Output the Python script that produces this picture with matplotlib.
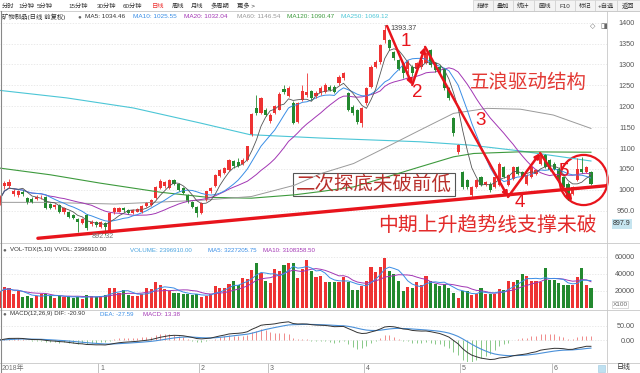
import numpy as np
import pandas as pd
import matplotlib
matplotlib.use("Agg")
import matplotlib.pyplot as plt
from matplotlib.lines import Line2D
from matplotlib.patches import Ellipse, Rectangle

plt.rcParams['font.family'] = ['Liberation Sans', 'Noto Sans CJK SC', 'DejaVu Sans']

# daily candles (Dec 2017 .. Jun 2018)
opens = [970, 1008, 1008, 990, 988, 995, 980, 979, 978, 982,
         983, 965, 958, 964, 946, 948, 940, 930, 920, 940,
         918, 922, 912, 920, 900, 946, 948, 956, 952, 945,
         948, 946, 962, 964, 980, 1004, 1008, 1004, 1024, 1014,
         1004, 988, 972, 960, 944, 976, 996, 1008, 1032, 1040,
         1048, 1068, 1066, 1062, 1072, 1132, 1196, 1185, 1192, 1164,
         1184, 1192, 1242, 1224, 1208, 1163, 1216, 1226, 1236, 1224,
         1232, 1235, 1247, 1247, 1255, 1267, 1231, 1199, 1191, 1159,
         1207, 1247, 1295, 1306, 1358, 1358, 1330, 1310, 1303, 1290,
         1295, 1290, 1295, 1303, 1335, 1303, 1295, 1290, 1243, 1171,
         1091, 1043, 1023, 987, 1007, 1031, 1011, 1015, 1007, 1011,
         1055, 1011, 1027, 1055, 1043, 1015, 1031, 1039, 1063, 1083,
         1071, 1063, 1051, 1031, 1015, 991, 1023, 1051, 1043, 1043]
closes = [978, 1016, 1018, 998, 996, 990, 970, 972, 984, 983,
          956, 957, 964, 948, 956, 936, 932, 922, 930, 908,
          924, 915, 922, 912, 944, 956, 956, 951, 945, 951,
          954, 962, 968, 976, 1006, 1022, 1018, 1024, 1014, 1000,
          992, 972, 960, 944, 968, 996, 1004, 1036, 1048, 1052,
          1072, 1056, 1056, 1072, 1104, 1181, 1185, 1220, 1180, 1180,
          1200, 1230, 1235, 1244, 1161, 1208, 1236, 1234, 1220, 1232,
          1244, 1251, 1239, 1235, 1271, 1279, 1191, 1183, 1163, 1195,
          1243, 1295, 1306, 1346, 1382, 1339, 1315, 1290, 1279, 1306,
          1279, 1303, 1310, 1327, 1298, 1287, 1279, 1243, 1219, 1135,
          1107, 1007, 1007, 1007, 1023, 1011, 1019, 999, 1031, 1063,
          1031, 1035, 1055, 1039, 1031, 1035, 1055, 1047, 1083, 1055,
          1047, 1051, 1023, 1007, 983, 1007, 1051, 1043, 1055, 1015]
highs = [988, 1022, 1025, 1003, 1000, 999, 983, 982, 987, 987,
         986, 968, 967, 966, 959, 950, 942, 933, 933, 942,
         927, 925, 925, 923, 946, 959, 959, 958, 954, 953,
         956, 964, 970, 978, 1008, 1026, 1021, 1027, 1027, 1016,
         1006, 990, 974, 962, 970, 998, 1007, 1038, 1050, 1055,
         1074, 1071, 1076, 1075, 1106, 1183, 1227, 1223, 1196, 1184,
         1204, 1233, 1251, 1248, 1212, 1211, 1252, 1280, 1240, 1236,
         1248, 1256, 1250, 1252, 1275, 1283, 1235, 1203, 1194, 1198,
         1246, 1298, 1310, 1349, 1393.37, 1362, 1333, 1313, 1306, 1310,
         1299, 1307, 1314, 1331, 1338, 1306, 1298, 1292, 1246, 1174,
         1110, 1046, 1026, 1010, 1026, 1034, 1022, 1018, 1034, 1066,
         1058, 1038, 1058, 1058, 1046, 1038, 1058, 1050, 1086, 1086,
         1074, 1066, 1054, 1034, 1018, 1010, 1075, 1079, 1058, 1046]
lows = [964, 1003, 1004, 985, 984, 986, 967, 969, 975, 978,
        953, 954, 955, 945, 943, 933, 929, 900, 917, 905,
        914, 911, 908, 892.32, 898, 943, 946, 948, 942, 943,
        946, 944, 959, 962, 978, 1002, 1005, 1002, 1011, 997,
        989, 969, 957, 936, 942, 974, 993, 1006, 1030, 1038,
        1046, 1053, 1054, 1060, 1070, 1130, 1180, 1182, 1176, 1160,
        1181, 1190, 1230, 1221, 1158, 1160, 1213, 1222, 1215, 1220,
        1228, 1232, 1236, 1232, 1252, 1263, 1188, 1178, 1158, 1151,
        1204, 1244, 1291, 1302, 1352, 1335, 1311, 1286, 1268, 1280,
        1272, 1284, 1290, 1300, 1294, 1283, 1275, 1240, 1215, 1130,
        1085, 1003, 1002, 982, 1004, 1008, 1008, 995, 1004, 1008,
        1028, 1008, 1024, 1036, 1028, 1012, 1028, 1036, 1060, 1052,
        1044, 1048, 1020, 1003, 975, 987, 1020, 1040, 1040, 1012]
volumes = [19000, 25000, 23000, 17000, 20000, 13000, 14000, 12000, 14000, 16000,
           17000, 14000, 12000, 14000, 13000, 14000, 12000, 13000, 11000, 15000,
           14000, 13000, 14000, 15000, 24000, 23500, 18000, 21000, 15000, 14000,
           14000, 17000, 23000, 22000, 31000, 26500, 22000, 20000, 18000, 18000,
           16000, 16000, 15000, 17000, 13000, 14500, 17000, 26000, 23000, 23500,
           28500, 31500, 27000, 35000, 34000, 45000, 53500, 41000, 32000, 29000,
           46000, 43000, 50000, 53500, 53000, 35000, 46000, 57000, 44000, 36000,
           38000, 30000, 30000, 31000, 31000, 37000, 30000, 21500, 21500, 26000,
           31500, 48000, 42000, 48000, 59000, 43500, 40000, 32000, 20000, 24600,
           24000, 30000, 26500, 38000, 31500, 28000, 26000, 28500, 23500, 17700,
           12300, 19600, 20000, 15800, 16000, 24000, 16000, 16000, 17000, 22700,
           21500, 32000, 30000, 33000, 40000, 38000, 32000, 31500, 30000, 46600,
           33000, 33000, 29000, 26500, 26500, 27000, 36000, 47000, 27000, 24000]

# long moving averages (need history before the window), read at a few bars
ma60_x = [0, 9.5, 25, 43.9, 54.9, 64.3, 70.1, 77.2, 84.5, 91.7, 99, 106.3, 113.6, 120.8, 129]
ma60_v = [970, 970, 966, 975, 984, 1011, 1039, 1063, 1103, 1143, 1183, 1195, 1193, 1179, 1147]
ma120_x = [0, 11, 21.9, 35.2, 45.4, 54.9, 64.3, 70.1, 77.2, 84.5, 91.7, 99, 103.4, 113.6, 129]
ma120_v = [1052, 1036, 1016, 994, 982, 980, 988, 996, 1007, 1031, 1055, 1079, 1087, 1091, 1090]
ma250_x = [0, 14.6, 29.1, 43.7, 54.6, 69.9, 91.7, 102.7, 113.6, 129]
ma250_v = [1238, 1220, 1196, 1160, 1132, 1124, 1115, 1107, 1093, 1069]

month_idx = [22, 44, 59, 80, 101, 121]
month_labels = ['1', '2', '3', '4', '5', '6']
price_ticks = [950, 1000, 1050, 1100, 1150, 1200, 1250, 1300, 1350, 1400]
price_labels = ['950.0', '1000', '1050', '1100', '1150', '1200', '1250', '1300', '1350', '1400']
vol_ticks = [20000, 40000, 60000]

W, H = 640, 373
RED = '#ee3333'
GREEN = '#23892f'
ANN = '#e8141c'
XL = (0.03, 132.5)

fig = plt.figure(figsize=(6.4, 3.73), dpi=100, facecolor='white')


def box(x0, y0, x1, y1):
    return [x0 / W, 1 - y1 / H, (x1 - x0) / W, (y1 - y0) / H]


def ftext(x, y, s, **kw):
    kw.setdefault('va', 'center')
    fig.text(x / W, 1 - y / H, s, **kw)


def fline(x0, y0, x1, y1, **kw):
    fig.add_artist(Line2D([x0 / W, x1 / W], [1 - y0 / H, 1 - y1 / H],
                          transform=fig.transFigure, **kw))


def frect(x0, y0, x1, y1, **kw):
    fig.add_artist(Rectangle((x0 / W, 1 - y1 / H), (x1 - x0) / W, (y1 - y0) / H,
                             transform=fig.transFigure, **kw))


def style(ax, ticks, labels, pad):
    ax.set_xlim(*XL)
    for s in ax.spines.values():
        s.set_visible(False)
    ax.set_xticks([])
    ax.yaxis.tick_right()
    ax.set_yticks(ticks)
    ax.set_yticklabels(labels)
    ax.tick_params(axis='y', length=0, pad=pad, labelsize=5.2, labelcolor='#555555')
    for t in ax.get_yticklabels():
        t.set_horizontalalignment('right')
    ax.grid(axis='y', color='#e2e2e2', lw=0.5, ls=(0, (2, 2)))
    ax.set_axisbelow(True)


x = np.arange(len(closes))
o = np.array(opens, float)
c = np.array(closes, float)
hi = np.array(highs, float)
lo = np.array(lows, float)
cols = np.where(c >= o, RED, GREEN)

# ---- price panel
ax = fig.add_axes(box(0, 19, 607, 242))
style(ax, price_ticks, price_labels, 20)
ax.set_ylim(875.1, 1408.9)

sc = pd.Series(c)
ax.plot(ma250_x, ma250_v, color='#4cc6d6', lw=0.8)
ax.plot(ma120_x, ma120_v, color='#3d9a3d', lw=0.8)
ax.plot(ma60_x, ma60_v, color='#9a9a9a', lw=0.7)
ax.plot(x, sc.rolling(20, min_periods=1).mean(), color='#a236b4', lw=0.7)
ax.plot(x, sc.rolling(10, min_periods=1).mean(), color='#3a8ee6', lw=0.7)
ax.plot(x, sc.rolling(5, min_periods=1).mean(), color='#555555', lw=0.6)

ax.vlines(x, lo, hi, colors=cols, lw=0.6)
ax.bar(x, np.maximum(np.abs(c - o), 1.5), bottom=np.minimum(o, c), width=0.68,
       color=cols, linewidth=0)

ax.annotate('1393.37', xy=(84, 1393.37), xytext=(85.2, 1387), fontsize=5.2, color='#444444',
            va='center', arrowprops=dict(arrowstyle='-', lw=0.5, color='#777777',
                                         shrinkA=0, shrinkB=0))
ax.text(22.5, 887.5, '892.32', fontsize=5.2, color='#777777', ha='center', va='center')

# hand-drawn annotations
ax.plot([8.3, 132.5], [884, 1010], color=ANN, lw=2.4, solid_capstyle='round')
wave = [(84.5, 1392), (90.0, 1251), (92.8, 1342), (110.9, 983), (117.9, 1088), (124.9, 973)]
for a, b in zip(wave[:-1], wave[1:]):
    ax.annotate('', xy=b, xytext=a,
                arrowprops=dict(arrowstyle='-|>', color=ANN, lw=1.8, mutation_scale=7,
                                shrinkA=0, shrinkB=0))
for s, px, py in [('1', 88.5, 1356), ('2', 91.1, 1233), ('3', 104.8, 1167),
                  ('4', 113.5, 969), ('5', 122.9, 1043)]:
    ax.text(px, py, s, color=ANN, fontsize=13.5, ha='center', va='center',
            family=['Liberation Sans'])
ax.add_patch(Ellipse((127.4, 1023.5), 10.5, 120, fill=False, edgecolor=ANN, lw=1.6,
                     clip_on=False))
ax.add_patch(Rectangle((64.0, 985.3), 35.35, 55, fill=False, edgecolor='#555555', lw=0.8))
cjk = ['Noto Sans CJK SC']
ax.text(64.5, 1012.5, '二次探底未破前低', color='#b8302c', fontsize=14, va='center',
        family=cjk, fontweight='light')
ax.text(102.6, 1258, '五浪驱动结构', color='#e33a35', fontsize=14, va='center',
        family=cjk, fontweight='light')
ax.text(82.5, 915.8, '中期上升趋势线支撑未破', color='#e32a2a', fontsize=14.3, va='center',
        family=cjk, fontweight='light')

# ---- volume panel
axv = fig.add_axes(box(0, 243, 607, 308))
style(axv, vol_ticks, [str(v) for v in vol_ticks], 20)
axv.set_ylim(0, 76470)
axv.bar(x, volumes, width=0.68, color=cols, linewidth=0)
sv = pd.Series(volumes, dtype=float)
axv.plot(x, sv.rolling(10, min_periods=1).mean(), color='#a236b4', lw=0.7)
axv.plot(x, sv.rolling(5, min_periods=1).mean(), color='#3a8ee6', lw=0.7)

# ---- MACD panel
axm = fig.add_axes(box(0, 310, 607, 362))
style(axm, [0, 50], ['0.00', '50.00'], 20)
axm.set_ylim(-76.9, 104.9)
dif = sc.ewm(span=12, adjust=False).mean() - sc.ewm(span=26, adjust=False).mean()
dea = dif.ewm(span=9, adjust=False).mean()
hist = 2 * (dif - dea)
axm.vlines(x, 0, hist, colors=np.where(hist >= 0, '#f08a8a', '#88c888'), lw=0.7)
axm.plot(x, dea, color='#4a90d9', lw=0.8)
axm.plot(x, dif, color='#333333', lw=0.7)

# ---- date row
axd = fig.add_axes(box(0, 362.5, 607, 373))
axd.set_xlim(*XL)
axd.set_ylim(0, 1)
axd.axis('off')
axd.text(0.3, 0.45, '2018年', fontsize=5, color='#777777', va='center')
for m, lab in zip(month_idx, month_labels):
    axd.plot([m - 0.5, m - 0.5], [0, 1], color='#aaaaaa', lw=0.5)
    axd.text(m - 0.1, 0.45, lab, fontsize=5, color='#666666', va='center')

# ---- frame lines
for yy in (11, 242.5, 309.5, 362.5):
    fline(0, yy, 640, yy, color='#c8c8c8', lw=0.6)
fline(607, 11, 607, 373, color='#c8c8c8', lw=0.6)
fline(0.5, 11, 0.5, 373, color='#888888', lw=0.8)

# ---- toolbar
tabs = [('分时', 2), ('1分钟', 18), ('5分钟', 37), ('15分钟', 68), ('30分钟', 97),
        ('60分钟', 123), ('日线', 152), ('周线', 172), ('月线', 191), ('多周期', 211),
        ('更多 >', 237)]
for s, px in tabs:
    ftext(px, 6, s, fontsize=4.5, color=RED if s == '日线' else '#333333')
edges = [473, 493, 513, 534, 555, 575, 595, 617, 640]
btns = ['指标', '叠加', '统计', '画线', 'F10', '标记', '+自选', '返回']
for s, a, b in zip(btns, edges[:-1], edges[1:]):
    frect(a, 0, b, 11, facecolor='#f3f3f3', edgecolor='#cfcfcf', lw=0.5)
    ftext((a + b) / 2, 6, s, fontsize=4.5, color='#333333', ha='center')

# ---- panel headers
ftext(2, 16.5, '矿物制品(日线 前复权)', fontsize=4.6, color='#333333')
ftext(77, 16.5, '●', fontsize=4.5, color='#666666')
for s, px, col in [('MA5: 1034.46', 85, '#333333'), ('MA10: 1025.55', 133, '#3a8ee6'),
                   ('MA20: 1032.04', 184, '#a236b4'), ('MA60: 1146.54', 237, '#999999'),
                   ('MA120: 1090.47', 287, '#3d9a3d'), ('MA250: 1069.12', 341, '#4cc6d6')]:
    ftext(px, 16.5, s, fontsize=4.6, color=col)
ftext(590, 26, '◇', fontsize=5, color='#666666', family=['DejaVu Sans'])
ftext(600, 26, '◨', fontsize=5, color='#666666', family=['DejaVu Sans'])

ftext(2, 250, '●', fontsize=4.5, color='#666666')
for s, px, col in [('VOL-TDX(5,10) VVOL: 2396910.00', 10, '#333333'),
                   ('VOLUME: 2396910.00', 130, '#4aa3df'), ('MA5: 3227205.75', 208, '#3a8ee6'),
                   ('MA10: 3108358.50', 263, '#a236b4')]:
    ftext(px, 250, s, fontsize=4.4, color=col)
ftext(2, 314, '●', fontsize=4.5, color='#666666')
for s, px, col in [('MACD(12,26,9) DIF: -20.90', 10, '#333333'), ('DEA: -27.59', 100, '#3a8ee6'),
                   ('MACD: 13.38', 143, '#a236b4')]:
    ftext(px, 314, s, fontsize=4.4, color=col)

# ---- right column extras
ftext(622, 224, '897.9', fontsize=5, color='#333333', ha='center',
      bbox=dict(facecolor='#c5e4ef', edgecolor='none', pad=0.8))
ftext(620, 304.5, 'X100', fontsize=4.6, color='#666666', ha='center',
      bbox=dict(facecolor='white', edgecolor='#bbbbbb', lw=0.4, pad=0.6))
frect(598, 364.5, 605, 371.5, facecolor='#bfe0f0', edgecolor='#9cc8e0', lw=0.4)
ftext(624, 368, '日线', fontsize=5, color='#333333', ha='center')

fig.savefig('out.png', dpi=100, facecolor='white')
